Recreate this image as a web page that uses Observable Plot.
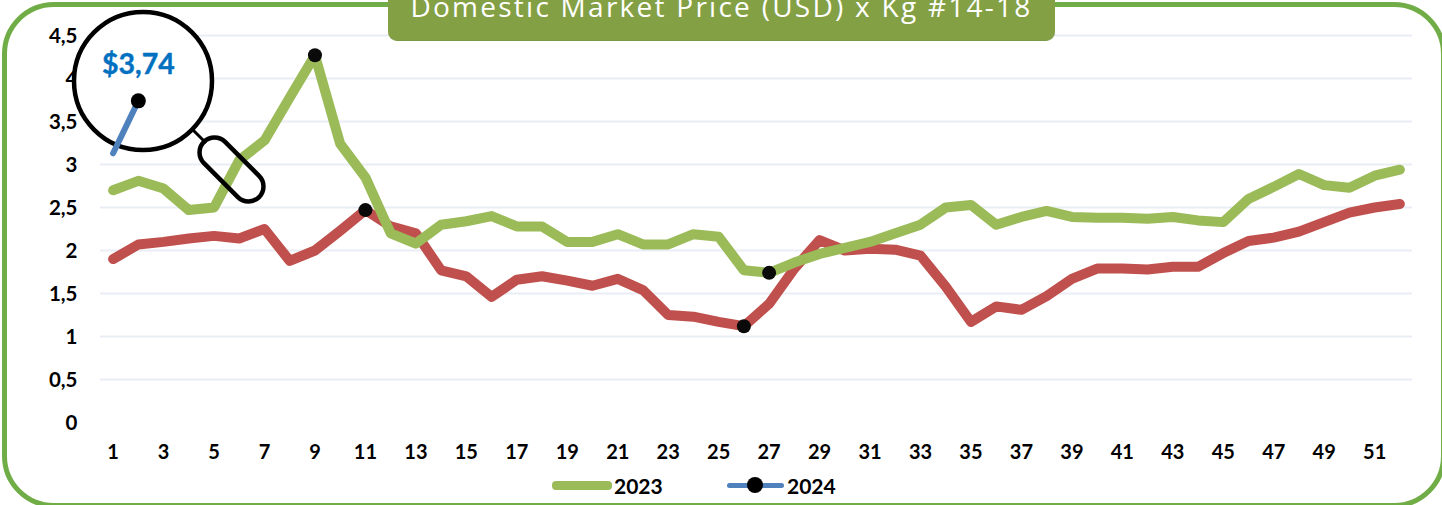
<!DOCTYPE html>
<html><head><meta charset="utf-8">
<script src="https://cdn.jsdelivr.net/npm/d3@7"></script>
<script src="https://cdn.jsdelivr.net/npm/@observablehq/plot@0.6"></script>
<style>
html,body{margin:0;padding:0;background:#fff;overflow:hidden;width:1442px;height:505px}
#wrap{position:relative;width:1442px;height:505px;overflow:hidden;font-family:Lato,sans-serif}
#frame{position:absolute;left:2px;top:2px;width:1434px;height:496px;border:5px solid #70AD47;border-radius:52px;box-sizing:content-box;background:#fff}
#chart{position:absolute;left:0;top:0}
#chart svg{background:transparent;display:block}
#banner{position:absolute;left:388px;top:-20px;width:667px;height:61px;background:#84A044;border-bottom:1px solid #7A9848;box-sizing:border-box;border-radius:9px;color:#fff;text-align:center;font:28px/1 "Open Sans",sans-serif;letter-spacing:2.26px}
#banner span{position:absolute;left:0;right:0;top:12px}
.leg{position:absolute;font-weight:700;font-size:21px;line-height:1;color:#000;top:475px}
.sw{position:absolute;border-radius:4px}
</style></head><body>
<div id="wrap">
<div id="frame"></div>
<div id="chart"></div>
<div id="banner"><span>Domestic Market Price (USD) x Kg #14-18</span></div>
<div class="sw" style="left:552px;top:481px;width:60px;height:9px;background:#9BBB59"></div>
<div class="leg" style="left:614px">2023</div>
<div class="sw" style="left:727px;top:483px;width:57px;height:5px;background:#4F81BD"></div>
<div class="sw" style="left:747px;top:477px;width:16px;height:16px;border-radius:50%;background:#000"></div>
<div class="leg" style="left:787px">2024</div>
</div>
<script>
const weeks = d3.range(1, 53);
const yTicks = [0, 0.5, 1, 1.5, 2, 2.5, 3, 3.5, 4, 4.5];
const values2023 = [2.70,2.81,2.72,2.47,2.50,3.05,3.28,3.78,4.27,3.24,2.85,2.20,2.08,2.30,2.34,2.40,2.28,2.28,2.10,2.10,2.19,2.07,2.07,2.19,2.16,1.77,1.74,1.86,1.96,2.03,2.10,2.20,2.30,2.50,2.53,2.30,2.39,2.46,2.39,2.38,2.38,2.37,2.39,2.35,2.33,2.60,2.74,2.89,2.76,2.73,2.87,2.94];
const valuesRed = [1.90,2.07,2.10,2.14,2.17,2.14,2.25,1.88,2.00,2.23,2.47,2.28,2.20,1.77,1.70,1.46,1.66,1.70,1.65,1.59,1.67,1.54,1.25,1.23,1.17,1.12,1.38,1.79,2.12,2.00,2.02,2.01,1.94,1.58,1.17,1.35,1.31,1.47,1.67,1.79,1.79,1.78,1.81,1.81,1.97,2.11,2.15,2.22,2.33,2.44,2.50,2.54];
const weeks2024 = [1, 2];
const values2024 = [3.13, 3.74];
const markerWeeks = [9, 11, 26, 27];
const markerValues = [4.27, 2.47, 1.12, 1.74];
const calloutLabel = "$3,74";

const toRows = (xs, ys) => xs.map((x, i) => ({x, y: ys[i]}));
const comma = d => String(d).replace(".", ",");

// Magnifying-glass decoration, drawn between the 2023 line and the 2024 line
const magnifier = () => {
  const g = d3.create("svg:g").attr("fill", "none").attr("stroke", "#000");
  g.append("circle").attr("cx", 143).attr("cy", 81).attr("r", 69).attr("fill", "#fff").attr("stroke-width", 4.5);
  g.append("line").attr("x1", 193).attr("y1", 130).attr("x2", 206).attr("y2", 143).attr("stroke-width", 3);
  g.append("rect").attr("x", -39).attr("y", -15).attr("width", 78).attr("height", 30).attr("rx", 15)
    .attr("stroke-width", 4.5).attr("transform", "translate(231.5,169.5) rotate(45)");
  return g.node();
};

const chart = Plot.plot({
  width: 1442, height: 505,
  marginLeft: 100, marginRight: 30, marginTop: 35, marginBottom: 83,
  style: {background: "transparent", fontFamily: "Lato, sans-serif"},
  x: {type: "point", domain: weeks, padding: 0.5, round: false, label: null},
  y: {domain: [0, 4.5], label: null},
  marks: [
    Plot.ruleY(yTicks.slice(1), {stroke: "#E9EEF6", strokeWidth: 2}),
    Plot.axisY({ticks: yTicks, tickSize: 0, tickPadding: 0, dx: -23, dy: 0.5, label: null, tickFormat: comma,
      fontSize: 20.5, fontWeight: 700, fill: "#000", marginLeft: 100}),
    Plot.axisX({ticks: weeks.filter(w => w % 2 === 1), tickSize: 0, tickPadding: 0, dy: 22, label: null,
      fontSize: 20, fontWeight: 700, fill: "#000"}),
    Plot.line(toRows(weeks, valuesRed), {x: "x", y: "y", stroke: "#C0504D", strokeWidth: 10, strokeLinecap: "round"}),
    Plot.line(toRows(weeks, values2023), {x: "x", y: "y", stroke: "#9BBB59", strokeWidth: 10, strokeLinecap: "round"}),
    magnifier,
    Plot.line(toRows(weeks2024, values2024), {x: "x", y: "y", stroke: "#4F81BD", strokeWidth: 6, strokeLinecap: "round"}),
    Plot.dot(toRows(weeks2024, values2024).slice(1), {x: "x", y: "y", r: 7.5, fill: "#000"}),
    Plot.dot(toRows(markerWeeks, markerValues), {x: "x", y: "y", r: 7, fill: "#0a0a0a"}),
    Plot.text(toRows(weeks2024, values2024).slice(1), {x: "x", y: "y", text: () => calloutLabel, dy: -36,
      fontSize: 28.5, fontWeight: 700, fill: "#0070C0", stroke: "#0070C0", strokeWidth: 0.4})
  ]
});
document.getElementById("chart").append(chart);
</script>
</body></html>
